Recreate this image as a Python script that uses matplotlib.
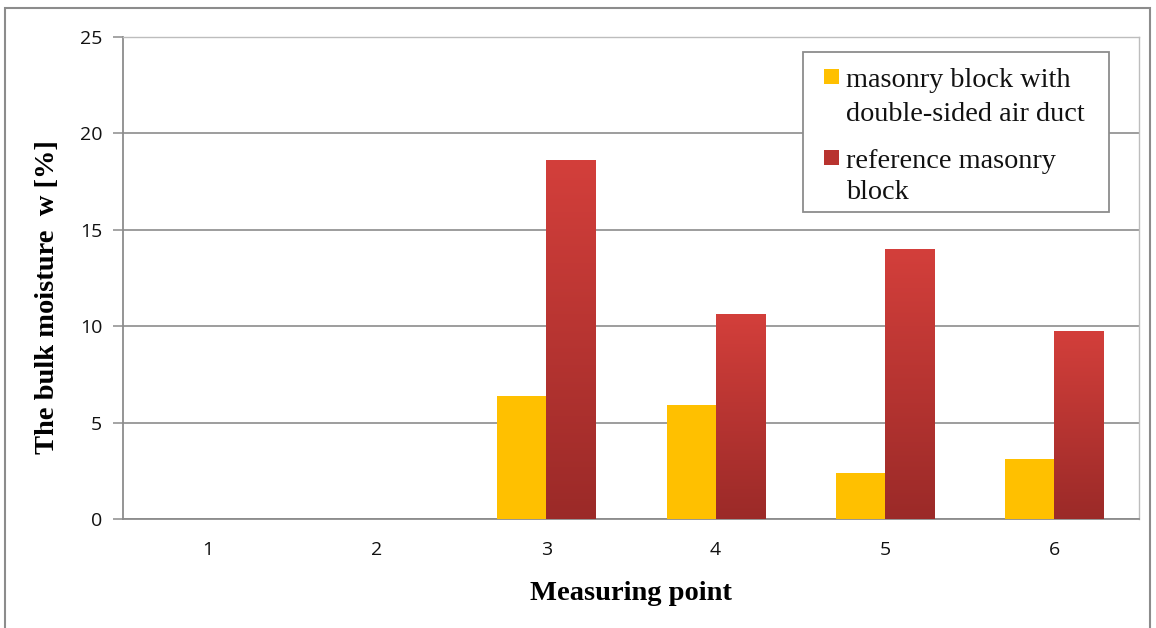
import numpy as np
import matplotlib
matplotlib.use("Agg")
import matplotlib.pyplot as plt
from matplotlib.patches import Rectangle
from matplotlib.colors import LinearSegmentedColormap

points = ["1", "2", "3", "4", "5", "6"]
air_duct = [0, 0, 6.4, 5.9, 2.4, 3.1]
reference = [0, 0, 18.6, 10.6, 14.0, 9.7]
series_labels = [["masonry block with", "double-sided air duct"],
                 ["reference masonry", "block"]]
yticks = [0, 5, 10, 15, 20, 25]

W, H = 1156, 628
fig = plt.figure(figsize=(W / 100, H / 100), dpi=100)
ax = fig.add_axes([123 / W, 1 - 519 / H, (1139 - 123) / W, (519 - 37) / H])

x = np.arange(len(points))
bw = 0.29
yellow = "#FFC000"
red_top, red_bottom = "#D33F3B", "#9B2A28"
red_cmap = LinearSegmentedColormap.from_list("redgrad", [red_bottom, red_top])

ax.bar(x - bw / 2, air_duct, width=bw, color=yellow, zorder=3)
red_bars = ax.bar(x + bw / 2, reference, width=bw, color="none", zorder=3)

grad = np.linspace(0, 1, 256).reshape(-1, 1)
for bar in red_bars:
    h = bar.get_height()
    if h <= 0:
        continue
    x0 = bar.get_x()
    ax.imshow(grad, cmap=red_cmap, origin="lower", aspect="auto",
              extent=(x0, x0 + bar.get_width(), 0, h), zorder=3)

ax.set_xlim(-0.5, len(points) - 0.5)
ax.set_ylim(0, 25)
ax.set_yticks(yticks)
ax.set_xticks(x)
ax.set_xticklabels(points)
ax.grid(axis="y", color="#8c8c8c", linewidth=1.2, zorder=0)
ax.set_axisbelow(True)

for side in ["left", "bottom"]:
    ax.spines[side].set_color("#8c8c8c")
    ax.spines[side].set_linewidth(1.3)
for side in ["top", "right"]:
    ax.spines[side].set_color("#bdbdbd")
    ax.spines[side].set_linewidth(1.0)

ax.tick_params(axis="y", length=7, width=1.1, color="#8c8c8c", pad=8,
               labelsize=14, labelcolor="#111111")
ax.tick_params(axis="x", length=0, pad=16, labelsize=14, labelcolor="#111111")
for lab in ax.get_xticklabels() + ax.get_yticklabels():
    lab.set_family("Open Sans")

ax.set_xlabel("Measuring point", family="Liberation Serif", fontweight="bold",
              fontsize=20.5, labelpad=16)
fig.text(48 / W, 1 - 297 / H, "The bulk moisture  w [%]", family="Liberation Serif",
         fontweight="bold", fontsize=20.5, rotation=90, ha="center", va="center")


def px(xp, yp):
    """Pixel position (from top-left) to figure fraction."""
    return xp / W, 1 - yp / H


# legend box with marker squares aligned to the first text line
fx, fy = px(803, 212)
fig.patches.append(Rectangle((fx, fy), (1109 - 803) / W, (212 - 52) / H,
                             transform=fig.transFigure, facecolor="white",
                             edgecolor="#8c8c8c", linewidth=1.3, zorder=5))
entry_colors = [yellow, "#B8332F"]
marker_tops = [69, 150]
baselines = [[87, 121], [168, 199]]
for col, mtop, lines, bases in zip(entry_colors, marker_tops, series_labels, baselines):
    mx, my = px(824, mtop + 15)
    fig.patches.append(Rectangle((mx, my), 15 / W, 15 / H, transform=fig.transFigure,
                                 facecolor=col, edgecolor="none", zorder=6))
    for line, b in zip(lines, bases):
        tx, ty = px(846, b)
        fig.text(tx, ty, line, family="Liberation Serif", fontsize=20.3,
                 ha="left", va="baseline", color="#111111", zorder=7)

# outer frame
fig.patches.append(Rectangle((5 / W, -0.02), (1150 - 5) / W, 1.02 - 8 / H,
                             transform=fig.transFigure, fill=False,
                             edgecolor="#8c8c8c", linewidth=1.5))

fig.savefig("out.png", dpi=100)
